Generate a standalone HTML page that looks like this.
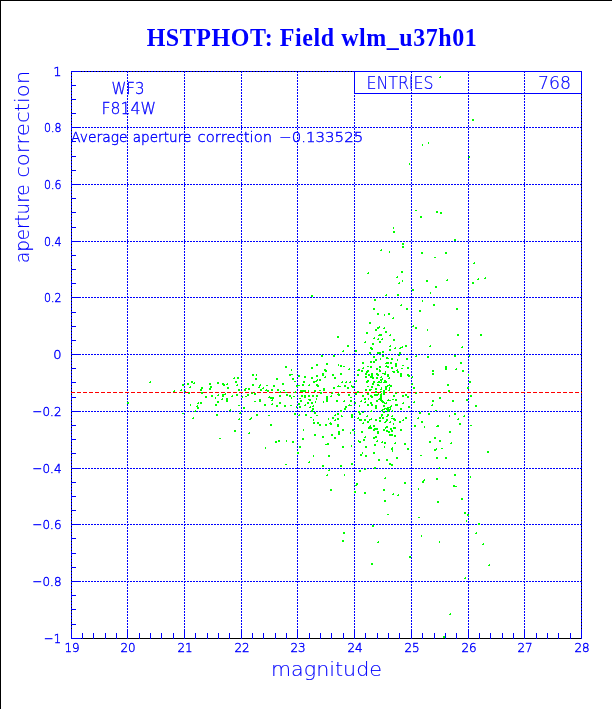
<!DOCTYPE html>
<html><head><meta charset="utf-8"><title>HSTPHOT: Field wlm_u37h01</title>
<style>
html,body{margin:0;padding:0;background:#fff;}
body{width:612px;height:709px;overflow:hidden;position:relative;}
#plot{position:absolute;left:0;top:0;width:612px;height:709px;border-top:1px solid #000;border-left:1px solid #000;box-sizing:border-box;}
svg{position:absolute;left:0;top:0;will-change:transform;}
.t{font-family:"DejaVu Sans Light","DejaVu Sans","Liberation Sans",sans-serif;fill:#0000ff;stroke:#0000ff;}
h1{position:absolute;margin:0;left:0;top:0;width:612px;text-align:center;font-family:"Liberation Serif",serif;font-weight:bold;color:#0000ff;white-space:pre;will-change:transform;}
</style></head><body>
<div id="plot"></div>
<h1 id="title" style="font-size:24px;line-height:30px;top:22.6px;left:6px;letter-spacing:0.55px;transform:scale(1,1.085);transform-origin:50% 22.4px">HSTPHOT: Field wlm_u37h01</h1>
<svg width="612" height="709" viewBox="0 0 612 709">
<g shape-rendering="crispEdges" fill="none" stroke-width="1">
<line x1="73" y1="127.5" x2="581" y2="127.5" stroke="#0000ff" stroke-dasharray="2 1"/>
<line x1="73" y1="184.5" x2="581" y2="184.5" stroke="#0000ff" stroke-dasharray="2 1"/>
<line x1="73" y1="241.5" x2="581" y2="241.5" stroke="#0000ff" stroke-dasharray="2 1"/>
<line x1="73" y1="297.5" x2="581" y2="297.5" stroke="#0000ff" stroke-dasharray="2 1"/>
<line x1="73" y1="354.5" x2="581" y2="354.5" stroke="#0000ff" stroke-dasharray="2 1"/>
<line x1="73" y1="411.5" x2="581" y2="411.5" stroke="#0000ff" stroke-dasharray="2 1"/>
<line x1="73" y1="468.5" x2="581" y2="468.5" stroke="#0000ff" stroke-dasharray="2 1"/>
<line x1="73" y1="524.5" x2="581" y2="524.5" stroke="#0000ff" stroke-dasharray="2 1"/>
<line x1="73" y1="581.5" x2="581" y2="581.5" stroke="#0000ff" stroke-dasharray="2 1"/>
<line x1="127.5" y1="71" x2="127.5" y2="638" stroke="#0000ff" stroke-dasharray="2 1"/>
<line x1="184.5" y1="71" x2="184.5" y2="638" stroke="#0000ff" stroke-dasharray="2 1"/>
<line x1="241.5" y1="71" x2="241.5" y2="638" stroke="#0000ff" stroke-dasharray="2 1"/>
<line x1="297.5" y1="71" x2="297.5" y2="638" stroke="#0000ff" stroke-dasharray="2 1"/>
<line x1="354.5" y1="71" x2="354.5" y2="638" stroke="#0000ff" stroke-dasharray="2 1"/>
<line x1="411.5" y1="71" x2="411.5" y2="638" stroke="#0000ff" stroke-dasharray="2 1"/>
<line x1="468.5" y1="71" x2="468.5" y2="638" stroke="#0000ff" stroke-dasharray="2 1"/>
<line x1="524.5" y1="71" x2="524.5" y2="638" stroke="#0000ff" stroke-dasharray="2 1"/>
<line x1="71.5" y1="71" x2="71.5" y2="639" stroke="#0000ff"/>
<line x1="581.5" y1="71" x2="581.5" y2="639" stroke="#0000ff"/>
<line x1="71" y1="71.5" x2="582" y2="71.5" stroke="#0000ff"/>
<line x1="71.5" y1="73" x2="71.5" y2="629" stroke="#000" stroke-dasharray="1 2"/>
<line x1="581.5" y1="94" x2="581.5" y2="629" stroke="#000" stroke-dasharray="1 2"/>
<line x1="81" y1="71.5" x2="354" y2="71.5" stroke="#000" stroke-dasharray="1 2"/>
<line x1="71" y1="638.5" x2="582" y2="638.5" stroke="#000"/>
<line x1="71" y1="71.5" x2="81" y2="71.5" stroke="#0000ff"/>
<line x1="71" y1="85.5" x2="76" y2="85.5" stroke="#0000ff"/>
<line x1="71" y1="99.5" x2="76" y2="99.5" stroke="#0000ff"/>
<line x1="71" y1="113.5" x2="76" y2="113.5" stroke="#0000ff"/>
<line x1="71" y1="127.5" x2="81" y2="127.5" stroke="#0000ff"/>
<line x1="71" y1="141.5" x2="76" y2="141.5" stroke="#0000ff"/>
<line x1="71" y1="156.5" x2="76" y2="156.5" stroke="#0000ff"/>
<line x1="71" y1="170.5" x2="76" y2="170.5" stroke="#0000ff"/>
<line x1="71" y1="184.5" x2="81" y2="184.5" stroke="#0000ff"/>
<line x1="71" y1="198.5" x2="76" y2="198.5" stroke="#0000ff"/>
<line x1="71" y1="212.5" x2="76" y2="212.5" stroke="#0000ff"/>
<line x1="71" y1="227.5" x2="76" y2="227.5" stroke="#0000ff"/>
<line x1="71" y1="241.5" x2="81" y2="241.5" stroke="#0000ff"/>
<line x1="71" y1="255.5" x2="76" y2="255.5" stroke="#0000ff"/>
<line x1="71" y1="269.5" x2="76" y2="269.5" stroke="#0000ff"/>
<line x1="71" y1="283.5" x2="76" y2="283.5" stroke="#0000ff"/>
<line x1="71" y1="297.5" x2="81" y2="297.5" stroke="#0000ff"/>
<line x1="71" y1="312.5" x2="76" y2="312.5" stroke="#0000ff"/>
<line x1="71" y1="326.5" x2="76" y2="326.5" stroke="#0000ff"/>
<line x1="71" y1="340.5" x2="76" y2="340.5" stroke="#0000ff"/>
<line x1="71" y1="354.5" x2="81" y2="354.5" stroke="#0000ff"/>
<line x1="71" y1="368.5" x2="76" y2="368.5" stroke="#0000ff"/>
<line x1="71" y1="382.5" x2="76" y2="382.5" stroke="#0000ff"/>
<line x1="71" y1="397.5" x2="76" y2="397.5" stroke="#0000ff"/>
<line x1="71" y1="411.5" x2="81" y2="411.5" stroke="#0000ff"/>
<line x1="71" y1="425.5" x2="76" y2="425.5" stroke="#0000ff"/>
<line x1="71" y1="439.5" x2="76" y2="439.5" stroke="#0000ff"/>
<line x1="71" y1="453.5" x2="76" y2="453.5" stroke="#0000ff"/>
<line x1="71" y1="468.5" x2="81" y2="468.5" stroke="#0000ff"/>
<line x1="71" y1="482.5" x2="76" y2="482.5" stroke="#0000ff"/>
<line x1="71" y1="496.5" x2="76" y2="496.5" stroke="#0000ff"/>
<line x1="71" y1="510.5" x2="76" y2="510.5" stroke="#0000ff"/>
<line x1="71" y1="524.5" x2="81" y2="524.5" stroke="#0000ff"/>
<line x1="71" y1="538.5" x2="76" y2="538.5" stroke="#0000ff"/>
<line x1="71" y1="553.5" x2="76" y2="553.5" stroke="#0000ff"/>
<line x1="71" y1="567.5" x2="76" y2="567.5" stroke="#0000ff"/>
<line x1="71" y1="581.5" x2="81" y2="581.5" stroke="#0000ff"/>
<line x1="71" y1="595.5" x2="76" y2="595.5" stroke="#0000ff"/>
<line x1="71" y1="609.5" x2="76" y2="609.5" stroke="#0000ff"/>
<line x1="71" y1="624.5" x2="76" y2="624.5" stroke="#0000ff"/>
<line x1="71" y1="638.5" x2="81" y2="638.5" stroke="#0000ff"/>
<line x1="71.5" y1="629" x2="71.5" y2="639" stroke="#0000ff"/>
<line x1="82.5" y1="633" x2="82.5" y2="639" stroke="#0000ff"/>
<line x1="93.5" y1="633" x2="93.5" y2="639" stroke="#0000ff"/>
<line x1="105.5" y1="633" x2="105.5" y2="639" stroke="#0000ff"/>
<line x1="116.5" y1="633" x2="116.5" y2="639" stroke="#0000ff"/>
<line x1="127.5" y1="629" x2="127.5" y2="639" stroke="#0000ff"/>
<line x1="139.5" y1="633" x2="139.5" y2="639" stroke="#0000ff"/>
<line x1="150.5" y1="633" x2="150.5" y2="639" stroke="#0000ff"/>
<line x1="161.5" y1="633" x2="161.5" y2="639" stroke="#0000ff"/>
<line x1="173.5" y1="633" x2="173.5" y2="639" stroke="#0000ff"/>
<line x1="184.5" y1="629" x2="184.5" y2="639" stroke="#0000ff"/>
<line x1="195.5" y1="633" x2="195.5" y2="639" stroke="#0000ff"/>
<line x1="207.5" y1="633" x2="207.5" y2="639" stroke="#0000ff"/>
<line x1="218.5" y1="633" x2="218.5" y2="639" stroke="#0000ff"/>
<line x1="229.5" y1="633" x2="229.5" y2="639" stroke="#0000ff"/>
<line x1="241.5" y1="629" x2="241.5" y2="639" stroke="#0000ff"/>
<line x1="252.5" y1="633" x2="252.5" y2="639" stroke="#0000ff"/>
<line x1="263.5" y1="633" x2="263.5" y2="639" stroke="#0000ff"/>
<line x1="275.5" y1="633" x2="275.5" y2="639" stroke="#0000ff"/>
<line x1="286.5" y1="633" x2="286.5" y2="639" stroke="#0000ff"/>
<line x1="297.5" y1="629" x2="297.5" y2="639" stroke="#0000ff"/>
<line x1="309.5" y1="633" x2="309.5" y2="639" stroke="#0000ff"/>
<line x1="320.5" y1="633" x2="320.5" y2="639" stroke="#0000ff"/>
<line x1="331.5" y1="633" x2="331.5" y2="639" stroke="#0000ff"/>
<line x1="343.5" y1="633" x2="343.5" y2="639" stroke="#0000ff"/>
<line x1="354.5" y1="629" x2="354.5" y2="639" stroke="#0000ff"/>
<line x1="365.5" y1="633" x2="365.5" y2="639" stroke="#0000ff"/>
<line x1="377.5" y1="633" x2="377.5" y2="639" stroke="#0000ff"/>
<line x1="388.5" y1="633" x2="388.5" y2="639" stroke="#0000ff"/>
<line x1="399.5" y1="633" x2="399.5" y2="639" stroke="#0000ff"/>
<line x1="411.5" y1="629" x2="411.5" y2="639" stroke="#0000ff"/>
<line x1="422.5" y1="633" x2="422.5" y2="639" stroke="#0000ff"/>
<line x1="434.5" y1="633" x2="434.5" y2="639" stroke="#0000ff"/>
<line x1="445.5" y1="633" x2="445.5" y2="639" stroke="#0000ff"/>
<line x1="456.5" y1="633" x2="456.5" y2="639" stroke="#0000ff"/>
<line x1="468.5" y1="629" x2="468.5" y2="639" stroke="#0000ff"/>
<line x1="479.5" y1="633" x2="479.5" y2="639" stroke="#0000ff"/>
<line x1="490.5" y1="633" x2="490.5" y2="639" stroke="#0000ff"/>
<line x1="502.5" y1="633" x2="502.5" y2="639" stroke="#0000ff"/>
<line x1="513.5" y1="633" x2="513.5" y2="639" stroke="#0000ff"/>
<line x1="524.5" y1="629" x2="524.5" y2="639" stroke="#0000ff"/>
<line x1="536.5" y1="633" x2="536.5" y2="639" stroke="#0000ff"/>
<line x1="547.5" y1="633" x2="547.5" y2="639" stroke="#0000ff"/>
<line x1="558.5" y1="633" x2="558.5" y2="639" stroke="#0000ff"/>
<line x1="570.5" y1="633" x2="570.5" y2="639" stroke="#0000ff"/>
<line x1="581.5" y1="629" x2="581.5" y2="639" stroke="#0000ff"/>
<line x1="71" y1="392.5" x2="582" y2="392.5" stroke="#ff0000" stroke-dasharray="4 2"/>
<rect x="354.5" y="71.5" width="227" height="22" fill="#fff" stroke="#0000ff"/>
<line x1="411.5" y1="71" x2="411.5" y2="94" stroke="#0000ff" stroke-dasharray="2 1"/>
<line x1="468.5" y1="71" x2="468.5" y2="94" stroke="#0000ff" stroke-dasharray="2 1"/>
<line x1="524.5" y1="71" x2="524.5" y2="94" stroke="#0000ff" stroke-dasharray="2 1"/>
</g>
<g shape-rendering="crispEdges" fill="#00ff00">
<path d="M440 76h1v2h-2v-1h1zM428 142h1v2h-1zM422 144h1v2h-1zM409 163h1v2h-1zM472 119h2v2h-2zM469 156h1v2h-2v-1h1zM415 210h2v1h-2zM436 211h2v2h-2zM440 212h2v2h-2zM420 216h2v2h-2zM393 227h1v2h-1zM393 231h2v2h-2zM454 239h2v2h-2zM402 243h2v2h-2zM402 246h2v2h-2zM381 249h1v2h-2v-1h1zM389 251h1v2h-1zM421 252h2v2h-2zM445 252h2v2h-2zM434 257h2v1h-2zM368 272h1v2h-2v-1h1zM401 271h2v2h-2zM397 276h1v2h-2v-1h1zM402 280h1v2h-1zM399 282h1v2h-2v-1h1zM426 280h2v2h-2zM447 279h1v2h-2v-1h1zM435 286h2v2h-2zM412 289h2v2h-2zM430 292h1v2h-1zM386 294h1v2h-2v-1h1zM397 294h2v2h-2zM474 262h1v2h-2v-1h1zM485 277h1v2h-2v-1h1zM478 278h1v2h-2v-1h1zM472 282h2v2h-2zM150 381h1v2h-2v-1h1zM182 384h2v2h-2zM181 389h1v2h-2v-1h1zM174 390h1v2h-2v-1h1zM127 402h2v2h-2zM191 381h2v2h-2zM194 382h1v2h-2v-1h1zM187 383h2v2h-2zM190 386h1v2h-2v-1h1zM184 391h2v1h-2zM189 392h1v2h-2v-1h1zM201 387h2v2h-2zM200 389h2v2h-2zM201 392h2v2h-2zM209 383h2v2h-2zM210 386h2v2h-2zM209 388h2v2h-2zM205 396h2v2h-2zM211 395h2v2h-2zM215 397h1v2h-1zM218 394h1v2h-2v-1h1zM217 382h2v2h-2zM222 383h2v2h-2zM224 384h1v2h-2v-1h1zM227 383h1v2h-2v-1h1zM227 387h2v2h-2zM222 394h2v2h-2zM223 395h1v2h-2v-1h1zM225 393h1v2h-2v-1h1zM222 398h1v2h-2v-1h1zM226 398h2v2h-2zM226 400h2v2h-2zM217 401h2v2h-2zM215 404h2v2h-2zM200 402h2v2h-2zM198 402h1v2h-2v-1h1zM197 405h1v2h-2v-1h1zM197 407h2v2h-2zM190 404h1v2h-1zM195 410h1v2h-2v-1h1zM234 377h1v2h-2v-1h1zM237 377h2v2h-2zM235 381h2v2h-2zM237 384h1v2h-2v-1h1zM238 389h2v2h-2zM236 394h2v2h-2zM232 395h1v2h-2v-1h1zM238 405h2v1h-2zM230 409h1v2h-2v-1h1zM252 374h2v2h-2zM256 374h1v2h-1zM255 378h2v2h-2zM252 384h2v2h-2zM244 389h2v2h-2zM245 388h2v1h-2zM248 388h2v2h-2zM242 396h1v2h-1zM245 396h2v1h-2zM247 394h2v2h-2zM243 407h2v2h-2zM252 392h1v2h-2v-1h1zM254 393h2v2h-2zM254 401h2v1h-2zM259 399h2v2h-2zM260 400h1v2h-2v-1h1zM260 384h1v2h-2v-1h1zM259 386h1v2h-2v-1h1zM260 389h2v2h-2zM263 387h1v2h-2v-1h1zM266 385h2v1h-2zM267 390h2v2h-2zM266 389h1v2h-2v-1h1zM271 389h2v2h-2zM273 385h2v2h-2zM276 378h2v2h-2zM277 389h2v2h-2zM280 391h1v2h-2v-1h1zM282 383h2v2h-2zM283 390h2v1h-2zM285 366h2v2h-2zM291 369h1v2h-1zM289 374h2v2h-2zM291 374h2v1h-2zM292 378h2v2h-2zM294 381h2v1h-2zM296 385h2v2h-2zM285 392h2v1h-2zM286 394h2v2h-2zM289 395h2v2h-2zM291 397h1v2h-1zM293 396h2v1h-2zM279 395h2v2h-2zM272 397h2v2h-2zM270 397h2v2h-2zM269 396h1v2h-2v-1h1zM272 399h1v2h-2v-1h1zM264 404h2v2h-2zM272 403h1v2h-2v-1h1zM276 405h2v2h-2zM279 402h2v2h-2zM284 405h2v2h-2zM290 405h2v1h-2zM296 406h1v2h-1zM295 391h1v2h-2v-1h1zM311 295h2v2h-2zM337 336h2v2h-2zM347 345h2v2h-2zM343 350h1v2h-2v-1h1zM321 355h2v2h-2zM333 355h2v2h-2zM316 364h2v2h-2zM326 363h2v2h-2zM338 364h1v2h-1zM340 365h2v2h-2zM343 366h2v1h-2zM311 367h2v2h-2zM349 368h1v2h-2v-1h1zM324 369h2v2h-2zM325 370h2v2h-2zM322 373h2v2h-2zM322 374h2v2h-2zM332 374h2v2h-2zM340 373h2v2h-2zM298 375h2v2h-2zM304 376h2v2h-2zM311 377h2v2h-2zM316 375h2v2h-2zM325 376h1v2h-2v-1h1zM334 377h2v2h-2zM319 379h2v2h-2zM316 380h1v2h-2v-1h1zM317 379h1v2h-1zM313 381h2v2h-2zM303 381h2v2h-2zM342 381h1v2h-2v-1h1zM346 381h1v2h-2v-1h1zM350 381h1v2h-2v-1h1zM298 385h2v1h-2zM302 384h2v2h-2zM309 384h1v2h-2v-1h1zM316 384h2v2h-2zM317 385h2v2h-2zM333 387h2v2h-2zM338 385h1v2h-2v-1h1zM339 386h2v1h-2zM344 385h2v2h-2zM347 387h2v2h-2zM351 385h1v2h-1zM352 386h2v2h-2zM323 388h2v2h-2zM323 390h2v1h-2zM319 390h2v1h-2zM314 390h2v2h-2zM320 392h2v2h-2zM300 390h2v2h-2zM302 390h2v2h-2zM304 390h2v2h-2zM308 390h1v2h-1zM332 392h1v2h-2v-1h1zM331 395h1v2h-2v-1h1zM338 393h1v2h-2v-1h1zM338 394h2v2h-2zM348 394h2v2h-2zM350 397h2v1h-2zM304 395h2v1h-2zM301 395h2v2h-2zM299 398h2v1h-2zM304 396h2v2h-2zM308 395h2v2h-2zM312 395h2v2h-2zM316 395h2v2h-2zM308 399h2v1h-2zM309 399h2v2h-2zM316 398h1v2h-1zM326 396h2v2h-2zM326 398h2v2h-2zM326 400h2v2h-2zM323 401h1v2h-1zM300 400h2v2h-2zM307 402h2v2h-2zM311 402h2v2h-2zM315 401h1v2h-1zM336 400h2v2h-2zM344 400h1v2h-2v-1h1zM350 400h2v2h-2zM298 403h2v2h-2zM299 406h2v2h-2zM305 404h1v2h-2v-1h1zM310 406h1v2h-2v-1h1zM313 405h1v2h-2v-1h1zM312 408h2v2h-2zM311 410h2v2h-2zM345 406h2v2h-2zM344 408h2v2h-2zM349 404h1v2h-2v-1h1zM350 405h2v1h-2zM340 410h2v2h-2zM382 355h2v2h-2zM399 354h1v2h-2v-1h1zM373 356h2v2h-2zM380 358h1v2h-1zM386 357h2v2h-2zM387 358h2v1h-2zM391 358h2v2h-2zM406 358h2v2h-2zM397 359h1v2h-1zM375 359h2v2h-2zM373 361h2v2h-2zM370 361h2v2h-2zM362 362h2v2h-2zM386 362h1v2h-2v-1h1zM387 362h2v2h-2zM390 362h2v2h-2zM395 363h2v2h-2zM395 365h2v2h-2zM402 365h2v1h-2zM367 366h2v1h-2zM370 366h2v2h-2zM379 366h2v2h-2zM386 365h1v2h-2v-1h1zM387 366h2v2h-2zM391 367h2v2h-2zM363 367h1v2h-2v-1h1zM401 368h2v1h-2zM407 367h2v2h-2zM358 369h2v2h-2zM358 369h1v2h-2v-1h1zM376 368h2v2h-2zM379 369h1v2h-1zM397 369h1v2h-2v-1h1zM397 371h2v2h-2zM361 370h2v2h-2zM367 370h2v2h-2zM366 371h2v2h-2zM379 370h2v2h-2zM385 371h1v2h-1zM392 371h2v1h-2zM393 371h2v2h-2zM365 373h2v2h-2zM368 374h2v2h-2zM371 373h2v2h-2zM376 373h2v2h-2zM377 374h2v2h-2zM382 373h2v1h-2zM384 373h2v2h-2zM387 374h2v2h-2zM388 375h1v2h-2v-1h1zM400 373h2v2h-2zM400 375h2v2h-2zM407 374h2v2h-2zM408 375h2v2h-2zM357 374h2v2h-2zM412 376h1v2h-2v-1h1zM365 376h2v2h-2zM370 376h2v2h-2zM372 377h2v2h-2zM371 375h2v2h-2zM376 377h2v2h-2zM381 376h1v2h-2v-1h1zM389 377h1v2h-2v-1h1zM356 380h1v2h-2v-1h1zM367 380h2v2h-2zM366 381h2v2h-2zM380 379h2v2h-2zM382 378h1v2h-2v-1h1zM378 381h2v2h-2zM378 381h1v2h-2v-1h1zM381 381h1v2h-2v-1h1zM384 380h2v2h-2zM385 381h2v2h-2zM383 382h2v1h-2zM373 381h2v2h-2zM372 383h2v2h-2zM367 386h2v1h-2zM377 384h2v2h-2zM378 385h2v1h-2zM389 384h1v2h-2v-1h1zM387 385h1v2h-1zM390 385h2v2h-2zM385 386h2v2h-2zM412 383h1v2h-2v-1h1zM371 386h2v2h-2zM370 389h2v1h-2zM369 389h2v2h-2zM365 389h2v2h-2zM375 388h2v2h-2zM381 387h1v2h-1zM381 388h1v2h-2v-1h1zM385 388h2v2h-2zM389 387h1v2h-1zM389 389h1v2h-2v-1h1zM380 391h2v1h-2zM383 390h2v2h-2zM357 391h2v2h-2zM355 393h2v2h-2zM375 391h2v2h-2zM383 392h2v2h-2zM367 393h2v2h-2zM396 392h1v2h-2v-1h1zM362 395h2v2h-2zM370 395h2v2h-2zM372 396h1v2h-2v-1h1zM374 394h2v2h-2zM376 394h2v2h-2zM378 393h1v2h-2v-1h1zM380 395h2v2h-2zM381 393h1v2h-2v-1h1zM383 394h2v1h-2zM393 395h2v2h-2zM402 395h2v2h-2zM405 394h2v2h-2zM407 396h2v2h-2zM364 398h2v2h-2zM368 398h1v2h-1zM379 398h1v2h-2v-1h1zM380 397h2v2h-2zM380 399h2v2h-2zM376 400h2v2h-2zM392 399h2v1h-2zM395 399h2v2h-2zM389 400h2v1h-2zM388 399h1v2h-2v-1h1zM361 400h1v2h-2v-1h1zM365 401h1v2h-2v-1h1zM381 400h2v2h-2zM382 401h2v2h-2zM384 402h1v2h-1zM386 402h1v2h-2v-1h1zM370 402h2v2h-2zM371 404h2v2h-2zM367 404h2v2h-2zM403 402h1v2h-2v-1h1zM355 402h1v2h-2v-1h1zM359 405h1v2h-1zM375 405h2v2h-2zM375 407h2v2h-2zM383 405h2v2h-2zM387 407h2v2h-2zM390 406h1v2h-2v-1h1zM391 405h1v2h-1zM396 404h2v2h-2zM395 404h2v2h-2zM408 406h2v2h-2zM385 408h2v1h-2zM386 408h2v2h-2zM382 409h1v2h-2v-1h1zM384 408h1v2h-2v-1h1zM388 409h2v2h-2zM390 408h1v2h-1zM400 408h2v2h-2zM371 410h1v2h-2v-1h1zM387 410h2v2h-2zM374 299h2v2h-2zM401 304h1v2h-2v-1h1zM373 308h2v2h-2zM406 308h2v2h-2zM377 313h2v2h-2zM384 314h1v2h-1zM388 313h2v2h-2zM393 317h1v2h-2v-1h1zM369 322h2v2h-2zM377 327h2v2h-2zM379 326h1v2h-2v-1h1zM384 327h1v2h-2v-1h1zM375 329h2v2h-2zM385 331h2v2h-2zM366 332h2v2h-2zM379 334h1v2h-2v-1h1zM380 334h2v2h-2zM390 334h1v2h-2v-1h1zM374 337h1v2h-2v-1h1zM378 338h1v2h-2v-1h1zM382 338h1v2h-2v-1h1zM393 339h2v2h-2zM365 341h1v2h-2v-1h1zM379 341h2v2h-2zM372 343h2v2h-2zM390 345h1v2h-2v-1h1zM405 345h2v2h-2zM370 347h2v2h-2zM371 348h2v2h-2zM395 347h1v2h-2v-1h1zM400 347h1v2h-2v-1h1zM402 346h1v2h-2v-1h1zM389 349h2v2h-2zM355 350h2v2h-2zM382 351h2v2h-2zM369 352h2v2h-2zM377 352h2v2h-2zM379 352h2v2h-2zM399 352h2v2h-2zM358 411h2v2h-2zM359 413h2v2h-2zM363 411h1v2h-2v-1h1zM383 411h2v2h-2zM392 410h1v2h-1zM367 415h1v2h-2v-1h1zM358 417h1v2h-2v-1h1zM381 414h2v2h-2zM381 415h1v2h-1zM382 417h2v2h-2zM379 417h2v2h-2zM387 414h2v2h-2zM387 415h1v2h-2v-1h1zM392 415h1v2h-2v-1h1zM405 417h2v2h-2zM359 419h2v2h-2zM361 419h1v2h-1zM364 419h2v2h-2zM369 419h1v2h-1zM371 418h1v2h-2v-1h1zM367 421h2v2h-2zM375 419h2v2h-2zM379 420h2v2h-2zM386 419h2v2h-2zM386 420h1v2h-1zM385 421h1v2h-2v-1h1zM391 418h2v1h-2zM393 418h2v2h-2zM395 419h1v2h-2v-1h1zM390 421h1v2h-2v-1h1zM403 419h1v2h-2v-1h1zM399 421h2v2h-2zM363 422h1v2h-2v-1h1zM393 423h1v2h-1zM370 425h1v2h-2v-1h1zM373 425h2v2h-2zM386 426h2v2h-2zM368 427h2v2h-2zM370 427h2v2h-2zM374 428h2v2h-2zM376 428h2v2h-2zM373 429h2v2h-2zM385 427h1v2h-1zM383 429h2v2h-2zM390 428h2v2h-2zM393 427h2v2h-2zM395 427h1v2h-2v-1h1zM391 430h2v2h-2zM386 430h2v2h-2zM388 431h2v2h-2zM400 429h2v2h-2zM361 431h2v2h-2zM377 431h2v2h-2zM377 432h2v2h-2zM354 432h1v2h-1zM389 434h2v2h-2zM391 434h2v2h-2zM394 435h2v2h-2zM365 436h1v2h-2v-1h1zM375 436h2v2h-2zM373 437h2v2h-2zM363 439h2v2h-2zM358 440h1v2h-1zM359 441h2v2h-2zM377 440h1v2h-2v-1h1zM382 441h1v2h-2v-1h1zM384 442h2v2h-2zM395 442h1v2h-2v-1h1zM404 443h2v2h-2zM374 444h2v2h-2zM365 446h2v2h-2zM384 446h1v2h-1zM392 447h1v2h-2v-1h1zM392 448h1v2h-2v-1h1zM392 450h1v2h-1zM407 448h2v2h-2zM362 452h1v2h-1zM360 454h2v2h-2zM373 452h2v2h-2zM365 455h2v2h-2zM396 457h2v2h-2zM378 459h2v2h-2zM386 459h2v2h-2zM389 463h2v2h-2zM391 464h2v2h-2zM365 468h1v2h-2v-1h1zM374 467h2v2h-2zM314 412h2v2h-2zM299 414h1v2h-2v-1h1zM305 414h2v2h-2zM316 415h2v1h-2zM310 417h2v1h-2zM313 419h1v2h-1zM335 414h1v2h-2v-1h1zM337 413h2v2h-2zM341 415h1v2h-1zM341 416h2v1h-2zM351 414h2v2h-2zM351 416h2v2h-2zM332 417h2v2h-2zM328 418h1v2h-1zM335 419h1v2h-2v-1h1zM337 418h2v2h-2zM313 422h2v2h-2zM317 422h2v2h-2zM319 424h2v2h-2zM325 424h2v2h-2zM330 422h1v2h-2v-1h1zM330 423h2v2h-2zM337 424h2v2h-2zM337 425h2v2h-2zM303 429h1v2h-1zM342 429h2v2h-2zM352 429h2v2h-2zM338 431h2v2h-2zM338 433h2v2h-2zM350 432h1v2h-1zM314 434h2v2h-2zM322 436h2v2h-2zM331 434h2v2h-2zM334 437h2v2h-2zM302 438h2v2h-2zM325 444h2v1h-2zM327 443h2v2h-2zM299 446h2v2h-2zM342 446h2v2h-2zM351 445h1v2h-1zM297 452h2v2h-2zM313 455h1v2h-1zM328 455h2v2h-2zM309 461h1v2h-2v-1h1zM322 465h2v2h-2zM340 465h2v2h-2zM351 463h2v2h-2zM193 417h1v2h-2v-1h1zM216 414h2v2h-2zM240 412h1v2h-2v-1h1zM239 418h1v2h-2v-1h1zM234 430h2v2h-2zM219 438h2v1h-2zM256 414h2v2h-2zM268 415h2v1h-2zM251 417h1v2h-1zM250 418h1v2h-2v-1h1zM270 424h2v2h-2zM249 432h1v2h-2v-1h1zM275 441h2v2h-2zM278 440h2v2h-2zM286 440h1v2h-1zM292 441h2v2h-2zM265 447h1v2h-1zM285 464h2v1h-2zM294 413h2v2h-2zM182 413h2v1h-2zM422 300h1v2h-1zM433 304h2v2h-2zM419 310h2v2h-2zM456 308h2v2h-2zM413 325h1v2h-2v-1h1zM415 327h2v2h-2zM427 329h1v2h-1zM457 334h2v2h-2zM480 334h2v2h-2zM430 345h1v2h-2v-1h1zM462 346h1v2h-2v-1h1zM416 355h1v2h-2v-1h1zM427 356h2v2h-2zM454 355h2v2h-2zM469 355h1v2h-1zM460 362h2v2h-2zM445 366h2v2h-2zM445 368h2v2h-2zM456 368h1v2h-2v-1h1zM432 370h2v2h-2zM432 373h2v2h-2zM462 370h2v2h-2zM468 374h1v2h-1zM469 381h2v2h-2zM447 384h2v2h-2zM413 387h2v2h-2zM467 387h2v2h-2zM448 390h2v2h-2zM416 392h1v2h-2v-1h1zM470 395h2v2h-2zM439 397h2v2h-2zM432 400h2v2h-2zM452 400h2v2h-2zM466 399h2v2h-2zM414 401h1v2h-2v-1h1zM432 404h1v2h-2v-1h1zM475 405h2v2h-2zM435 410h2v1h-2zM419 412h2v2h-2zM428 413h2v2h-2zM454 413h2v2h-2zM449 415h1v2h-1zM464 415h1v2h-2v-1h1zM458 418h1v2h-2v-1h1zM418 417h1v2h-2v-1h1zM421 421h2v2h-2zM459 423h2v2h-2zM414 425h2v2h-2zM424 426h1v2h-1zM437 425h1v2h-2v-1h1zM437 425h2v2h-2zM470 425h2v1h-2zM449 431h2v2h-2zM434 437h2v2h-2zM429 441h2v2h-2zM439 440h2v2h-2zM451 442h1v2h-2v-1h1zM441 448h2v1h-2zM434 449h2v2h-2zM436 448h1v2h-2v-1h1zM420 455h2v1h-2zM436 457h2v2h-2zM445 457h2v2h-2zM487 451h2v2h-2zM439 467h1v2h-2v-1h1zM454 474h2v2h-2zM470 476h1v2h-1zM436 478h2v2h-2zM424 479h1v2h-2v-1h1zM422 481h2v2h-2zM453 485h2v2h-2zM455 486h2v1h-2zM418 488h1v2h-1zM461 498h2v2h-2zM437 501h2v2h-2zM464 512h2v2h-2zM467 514h2v2h-2zM418 517h2v1h-2zM466 520h1v2h-1zM478 523h2v2h-2zM421 535h1v2h-1zM439 541h1v2h-1zM476 532h1v2h-2v-1h1zM483 543h1v2h-2v-1h1zM489 564h1v2h-2v-1h1zM465 577h1v2h-2v-1h1zM450 613h1v2h-2v-1h1zM443 636h2v2h-2zM329 469h1v2h-2v-1h1zM327 474h1v2h-2v-1h1zM344 474h1v2h-1zM330 489h2v2h-2zM359 470h2v2h-2zM385 477h1v2h-2v-1h1zM404 482h2v2h-2zM356 483h2v2h-2zM356 484h1v2h-2v-1h1zM354 491h2v2h-2zM364 492h2v2h-2zM383 489h2v2h-2zM393 493h1v2h-2v-1h1zM398 494h1v2h-2v-1h1zM384 500h2v2h-2zM387 514h2v1h-2zM372 525h2v2h-2zM343 532h2v2h-2zM342 540h2v2h-2zM378 541h1v2h-2v-1h1zM409 556h2v2h-2zM371 563h2v2h-2z"/>
</g>
<text id="wf3" class="t" x="111.5" y="94" font-size="16" text-anchor="start" textLength="33" lengthAdjust="spacingAndGlyphs" stroke-width="0.31">WF3</text>
<text id="f814" class="t" x="101.5" y="114" font-size="16" text-anchor="start" textLength="54.5" lengthAdjust="spacingAndGlyphs" stroke-width="0.31">F814W</text>
<text id="avg1" class="t" x="71" y="142" font-size="14" text-anchor="start" textLength="56.5" lengthAdjust="spacingAndGlyphs" stroke-width="0.39">Average</text>
<text id="avg2" class="t" x="132.8" y="142" font-size="14" text-anchor="start" textLength="58.5" lengthAdjust="spacingAndGlyphs" stroke-width="0.39">aperture</text>
<text id="avg3" class="t" x="197.6" y="142" font-size="14" text-anchor="start" textLength="74.5" lengthAdjust="spacingAndGlyphs" stroke-width="0.39">correction</text>
<text id="avg4" class="t" x="279.2" y="142" font-size="14" text-anchor="start" textLength="84" lengthAdjust="spacingAndGlyphs" stroke-width="0.39">−0.133525</text>
<text id="ent" class="t" x="366.5" y="89" font-size="18" text-anchor="start" textLength="67" lengthAdjust="spacingAndGlyphs" stroke-width="0.22">ENTRIES</text>
<text id="n768" class="t" x="538" y="89" font-size="18" text-anchor="start" textLength="33" lengthAdjust="spacingAndGlyphs" stroke-width="0.22">768</text>
<text id="xlab" class="t" x="271" y="675.5" font-size="20" text-anchor="start" textLength="111" lengthAdjust="spacingAndGlyphs" stroke-width="0.13">magnitude</text>
<text id="ylab1" class="t" font-size="20" stroke-width="0.13" textLength="78.5" lengthAdjust="spacingAndGlyphs" transform="translate(29,263) rotate(-90)">aperture</text>
<text id="ylab2" class="t" font-size="20" stroke-width="0.13" textLength="107" lengthAdjust="spacingAndGlyphs" transform="translate(29,177.8) rotate(-90)">correction</text>
<text id="yl0" class="t" x="61.5" y="76" font-size="13" text-anchor="end" stroke-width="0.44">1</text>
<text id="yl1" class="t" x="61.5" y="132" font-size="13" text-anchor="end" textLength="17.5" lengthAdjust="spacingAndGlyphs" stroke-width="0.44">0.8</text>
<text id="yl2" class="t" x="61.5" y="189" font-size="13" text-anchor="end" textLength="17.5" lengthAdjust="spacingAndGlyphs" stroke-width="0.44">0.6</text>
<text id="yl3" class="t" x="61.5" y="246" font-size="13" text-anchor="end" textLength="17.5" lengthAdjust="spacingAndGlyphs" stroke-width="0.44">0.4</text>
<text id="yl4" class="t" x="61.5" y="302" font-size="13" text-anchor="end" textLength="17.5" lengthAdjust="spacingAndGlyphs" stroke-width="0.44">0.2</text>
<text id="yl5" class="t" x="61.5" y="359" font-size="13" text-anchor="end" stroke-width="0.44">0</text>
<text id="yl6" class="t" x="61.5" y="416" font-size="13" text-anchor="end" textLength="29" lengthAdjust="spacingAndGlyphs" stroke-width="0.44">−0.2</text>
<text id="yl7" class="t" x="61.5" y="473" font-size="13" text-anchor="end" textLength="29" lengthAdjust="spacingAndGlyphs" stroke-width="0.44">−0.4</text>
<text id="yl8" class="t" x="61.5" y="529" font-size="13" text-anchor="end" textLength="29" lengthAdjust="spacingAndGlyphs" stroke-width="0.44">−0.6</text>
<text id="yl9" class="t" x="61.5" y="586" font-size="13" text-anchor="end" textLength="29" lengthAdjust="spacingAndGlyphs" stroke-width="0.44">−0.8</text>
<text id="yl10" class="t" x="61" y="643" font-size="13" text-anchor="end" textLength="17" lengthAdjust="spacingAndGlyphs" stroke-width="0.44">−1</text>
<text id="xl0" class="t" x="72" y="652" font-size="13" text-anchor="middle" textLength="15.2" lengthAdjust="spacingAndGlyphs" stroke-width="0.44">19</text>
<text id="xl1" class="t" x="128" y="652" font-size="13" text-anchor="middle" textLength="15.2" lengthAdjust="spacingAndGlyphs" stroke-width="0.44">20</text>
<text id="xl2" class="t" x="185" y="652" font-size="13" text-anchor="middle" textLength="15.2" lengthAdjust="spacingAndGlyphs" stroke-width="0.44">21</text>
<text id="xl3" class="t" x="242" y="652" font-size="13" text-anchor="middle" textLength="15.2" lengthAdjust="spacingAndGlyphs" stroke-width="0.44">22</text>
<text id="xl4" class="t" x="298" y="652" font-size="13" text-anchor="middle" textLength="15.2" lengthAdjust="spacingAndGlyphs" stroke-width="0.44">23</text>
<text id="xl5" class="t" x="355" y="652" font-size="13" text-anchor="middle" textLength="15.2" lengthAdjust="spacingAndGlyphs" stroke-width="0.44">24</text>
<text id="xl6" class="t" x="412" y="652" font-size="13" text-anchor="middle" textLength="15.2" lengthAdjust="spacingAndGlyphs" stroke-width="0.44">25</text>
<text id="xl7" class="t" x="469" y="652" font-size="13" text-anchor="middle" textLength="15.2" lengthAdjust="spacingAndGlyphs" stroke-width="0.44">26</text>
<text id="xl8" class="t" x="525" y="652" font-size="13" text-anchor="middle" textLength="15.2" lengthAdjust="spacingAndGlyphs" stroke-width="0.44">27</text>
<text id="xl9" class="t" x="582" y="652" font-size="13" text-anchor="middle" textLength="15.2" lengthAdjust="spacingAndGlyphs" stroke-width="0.44">28</text>
</svg>
</body></html>
